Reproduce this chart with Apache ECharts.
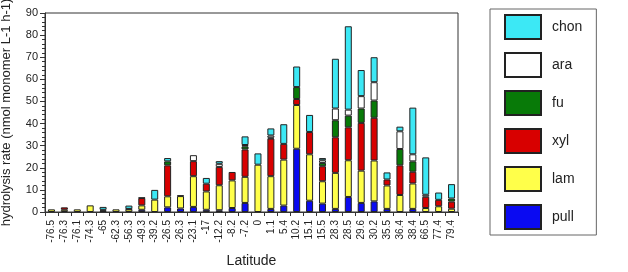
<!DOCTYPE html>
<html><head><meta charset="utf-8">
<script src="https://cdn.jsdelivr.net/npm/echarts@6/dist/echarts.min.js"></script>
<style>html,body{margin:0;padding:0;background:#fff}#c{width:628px;height:272px}</style>
</head><body><div id="c"></div>
<script>
const categories = ['-76.5','-76.3','-76.1','-74.3','-65','-62.3','-56.3','-49.3','-39.2','-26.5','-26.3','-23.1','-17','-12.2','-8.2','-7.2','0','1.1','5.4','10.2','15.1','15.5','28.3','28.5','29.6','30.2','35.5','36.4','38.4','66.5','77.4','79.4'];
const pull = [0,0,0,0,0.6,0,0,1.0,0,2.1,1.6,2.3,1.0,0.8,1.8,4.1,0,1.4,2.9,28.6,5.1,3.8,1.4,6.8,4.1,4.8,1.4,0,1.4,0,0,0];
const lam  = [1.2,1.0,1.2,3.0,0.4,1.2,1.2,2.0,5.6,5.0,5.6,13.9,8.3,11.3,12.5,11.8,21.4,14.8,20.8,19.8,21.0,10.1,16.3,16.6,14.6,18.5,10.6,7.7,11.5,1.8,2.6,1.5];
const xyl  = [0,1.1,0,0,0,0,0,3.3,0,14.0,0.3,6.8,3.5,8.3,3.8,12.4,0,17.0,7.1,2.7,10.1,6.8,16.1,14.9,21.6,19.3,2.7,13.4,5.3,5.1,2.9,3.2];
const fu   = [0,0,0,0,0,0,0.2,0,0,1.8,0,0,0,0,0,1.4,0,0.4,0,5.4,0,1.5,7.7,5.3,6.5,7.8,0,7.4,4.7,0,0,1.4];
const ara  = [0,0,0,0,0,0,0,0,0,0,0,2.7,0,1.4,0,0.6,0,1.0,0,0,0,1.2,5.3,2.7,5.6,8.3,0,8.0,3.2,0.9,0,0];
const chon = [0,0,0,0,1.3,0,1.5,0.2,4.4,1.5,0,0,2.6,1.2,0,3.9,5.1,3.2,8.9,9.3,7.7,1.0,22.5,37.7,11.8,11.3,3.2,2.1,21.1,16.9,3.3,6.5];
const yTicks = [0,10,20,30,40,50,60,70,80,90];

const seriesDefs = [
  ['pull', pull, '#0a0af2'],
  ['lam', lam, '#ffff4a'],
  ['xyl', xyl, '#d80000'],
  ['fu', fu, '#087a08'],
  ['ara', ara, '#ffffff'],
  ['chon', chon, '#3ce8f5']
];
const FONT = 'Liberation Sans, Arial, Helvetica, sans-serif';
const chart = echarts.init(document.getElementById('c'), null, {renderer:'canvas'});
chart.setOption({
  animation: false,
  backgroundColor: '#fff',
  textStyle: {fontFamily: FONT},
  grid: {left: 45, right: 170, top: 13, bottom: 60, show: true, borderColor: '#333', borderWidth: 1,
         containLabel: false, outerBoundsMode: 'none'},
  legend: {
    orient: 'vertical', left: 490, top: 9,
    data: ['chon','ara','fu','xyl','lam','pull'],
    icon: 'rect', itemWidth: 36, itemHeight: 24, itemGap: 12,
    padding: [5, 14, 5, 14],
    borderColor: '#666', borderWidth: 1,
    textStyle: {fontFamily: FONT, fontSize: 14, color: '#222', padding: [0,0,0,6]}
  },
  xAxis: {
    type: 'category', data: categories,
    name: 'Latitude', nameLocation: 'middle', nameGap: 42,
    nameTextStyle: {fontFamily: FONT, fontSize: 14, color: '#222'},
    axisLine: {lineStyle: {color: '#333', width: 1}},
    axisTick: {show: true, length: 4, lineStyle: {color: '#333'}},
    axisLabel: {rotate: 90, fontSize: 10, color: '#222', margin: 8, interval: 0, fontFamily: FONT}
  },
  yAxis: {
    type: 'value', min: yTicks[0], max: yTicks[yTicks.length-1], interval: 10,
    name: 'hydrolysis rate (nmol monomer L-1 h-1)', nameLocation: 'middle', nameGap: 32,
    nameTextStyle: {fontFamily: FONT, fontSize: 13, color: '#222'},
    axisLine: {show: true, lineStyle: {color: '#333', width: 1}},
    axisTick: {show: true, length: 5, lineStyle: {color: '#333'}},
    minorTick: {show: true, splitNumber: 5, length: 3, lineStyle: {color: '#333'}},
    splitLine: {show: false},
    axisLabel: {fontSize: 11, color: '#222', margin: 7, fontFamily: FONT}
  },
  series: seriesDefs.map(([name, vals, color]) => ({
    name, type: 'bar', stack: 'total', barWidth: 7,
    data: vals.map(v => v === 0 ? null : v),
    itemStyle: {color, borderColor: '#222', borderWidth: 1}
  }))
});
</script></body></html>
